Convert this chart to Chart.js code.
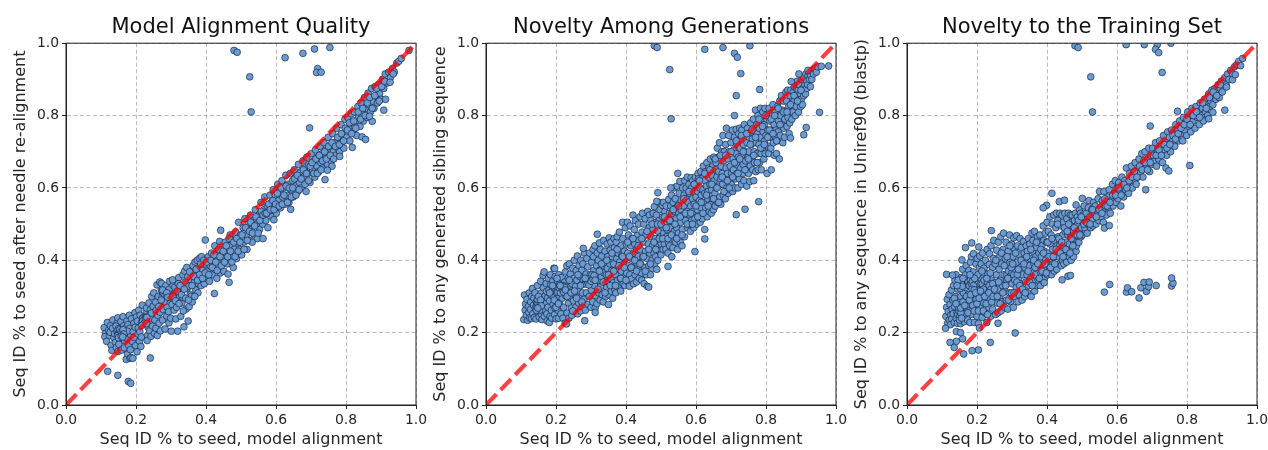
<!DOCTYPE html>
<html>
<head>
<meta charset="utf-8">
<script src="https://cdn.jsdelivr.net/npm/chart.js@4"></script>
<style>
  html, body { margin: 0; padding: 0; background: #fff; width: 1268px; height: 450px; overflow: hidden; }
  canvas { position: absolute; top: 0; }
  #alignChart { left: 0; }
  #siblingChart { left: 420px; }
  #trainChart { left: 841px; }
</style>
</head>
<body>
<canvas id="alignChart" width="440" height="450"></canvas>
<canvas id="siblingChart" width="440" height="450"></canvas>
<canvas id="trainChart" width="440" height="450"></canvas>
<script>
// Values, as [x, y] pairs. Not every dot of the dense band is recoverable,
// so the band is a hand estimate of where the dots sit.
const tickValues = [0, 0.2, 0.4, 0.6, 0.8, 1];
const tickLabels = ["0.0", "0.2", "0.4", "0.6", "0.8", "1.0"];
const xLabel = "Seq ID % to seed, model alignment";
const diagonal = [[0, 0], [1, 1]];

const alignBand = [
  [.109,.214],[.113,.198],[.118,.228],[.111,.189],[.122,.207],[.116,.176],[.127,.219],[.124,.192],[.129,.165],[.131,.151],[.126,.201],[.134,.235],
  [.137,.186],[.133,.212],[.141,.173],[.146,.226],[.139,.197],[.144,.159],[.148,.241],[.152,.205],[.143,.218],[.155,.182],[.149,.148],[.157,.231],[.153,.194],[.158,.213],[.151,.168],[.147,.199],[.154,.206],[.15,.211],[.156,.19],[.159,.152],
  [.163,.244],[.161,.202],[.168,.177],[.165,.219],[.172,.126],[.167,.158],[.174,.232],[.17,.198],[.176,.141],[.178,.207],[.169,.211],[.173,.185],[.181,.248],[.179,.165],[.183,.129],[.177,.222],[.185,.193],[.182,.212],[.187,.238],[.184,.153],[.189,.176],[.175,.204],[.186,.131],
  [.191,.129],[.194,.226],[.192,.203],[.197,.255],[.199,.164],[.195,.187],[.201,.243],[.203,.147],[.198,.215],[.206,.196],[.204,.232],[.208,.262],[.21,.176],[.207,.213],[.212,.248],[.214,.162],[.211,.202],[.216,.228],[.218,.276],[.215,.188],[.219,.24],
  [.221,.236],[.224,.242],[.222,.228],[.226,.233],[.228,.246],[.223,.238],[.227,.225],[.225,.24],[.229,.235],[.231,.258],[.233,.192],[.23,.268],[.235,.214],[.232,.178],[.237,.282],[.234,.245],[.239,.205],[.241,.263],[.238,.228],[.243,.19],[.245,.3],[.242,.24],[.247,.218],[.249,.273],[.244,.254],
  [.251,.31],[.253,.198],[.256,.284],[.254,.235],[.258,.262],[.26,.332],[.257,.212],[.262,.248],[.264,.3],[.261,.192],[.266,.226],[.268,.34],[.265,.272],[.27,.205],[.272,.318],[.269,.256],[.274,.29],[.276,.235],[.273,.336],[.278,.264],[.28,.3],[.282,.308],[.279,.295],[.284,.29],[.281,.296],[.286,.305],[.283,.21],[.288,.246],[.285,.33],[.29,.283],[.292,.312],[.289,.27],[.294,.227],[.296,.342],[.293,.258],[.298,.298],[.295,.32],[.299,.24],
  [.303,.278],[.306,.33],[.301,.204],[.309,.262],[.312,.31],[.305,.346],[.314,.238],[.317,.288],[.311,.325],[.319,.204],[.322,.352],[.316,.27],[.325,.3],[.328,.245],[.321,.335],[.331,.282],[.334,.36],[.327,.315],[.337,.216],[.34,.34],[.333,.298],[.343,.265],[.346,.322],[.339,.37],[.349,.232],[.352,.272],[.345,.38],[.355,.305],[.358,.345],
  [.351,.328],[.361,.285],[.364,.372],[.357,.3],[.367,.34],[.371,.318],[.363,.385],[.374,.36],[.377,.31],[.369,.395],[.379,.335],[.383,.378],[.375,.4],[.386,.33],[.388,.35],[.381,.405],[.391,.372],[.395,.335],[.387,.41],[.397,.39],[.402,.35],
  [.404,.37],[.407,.41],[.41,.342],[.412,.385],[.416,.42],[.419,.36],[.421,.4],[.425,.44],[.426,.375],[.431,.35],[.433,.418],[.437,.395],[.439,.452],[.441,.365],[.446,.43],[.448,.405],[.451,.37],[.455,.45],[.457,.42],[.461,.39],[.463,.362],[.467,.44],[.469,.47],[.472,.41],[.476,.455],[.478,.38],[.481,.43],[.485,.478],[.487,.405],[.491,.448],[.493,.505],[.496,.43],[.499,.47],
  [.502,.415],[.506,.49],[.508,.45],[.511,.515],[.515,.47],[.517,.43],[.521,.5],[.523,.455],[.527,.525],[.529,.485],[.532,.45],[.536,.51],[.538,.47],[.541,.54],[.545,.5],[.547,.46],[.551,.525],[.553,.485],[.557,.56],[.559,.515],[.562,.5],[.566,.54],[.568,.575],[.571,.51],[.575,.55],[.577,.49],[.581,.53],[.583,.58],[.587,.56],[.589,.52],[.592,.595],[.596,.545],[.598,.58],
  [.601,.53],[.605,.61],[.607,.565],[.611,.59],[.613,.545],[.617,.62],[.619,.575],[.622,.6],[.626,.555],[.628,.635],[.632,.58],[.634,.61],[.637,.56],[.641,.64],[.643,.595],[.647,.62],[.649,.575],[.652,.65],[.656,.605],[.658,.63],[.662,.59],[.664,.665],[.667,.615],[.671,.645],[.673,.6],[.677,.675],[.679,.63],[.682,.655],[.686,.59],[.688,.685],[.692,.64],[.694,.665],[.697,.615],
  [.701,.695],[.705,.65],[.707,.675],[.711,.63],[.713,.705],[.717,.66],[.719,.685],[.722,.645],[.726,.715],[.728,.67],[.732,.695],[.734,.655],[.737,.725],[.741,.68],[.743,.705],[.747,.665],[.749,.74],[.752,.69],[.756,.715],[.758,.675],[.762,.75],[.764,.7],[.767,.725],[.771,.69],[.773,.765],[.777,.71],[.779,.74],[.782,.7],[.786,.775],[.788,.725],[.792,.75],[.794,.71],[.797,.79],
  [.802,.74],[.805,.795],[.808,.765],[.811,.73],[.815,.805],[.817,.78],[.82,.755],[.824,.81],[.827,.785],[.83,.745],[.834,.825],[.836,.795],[.84,.77],[.843,.835],[.846,.805],[.85,.785],[.853,.85],[.856,.82],[.86,.795],[.863,.862],[.866,.83],[.87,.81],[.873,.875],[.876,.84],[.88,.82],[.883,.88],[.886,.855],[.89,.835],[.893,.885],[.896,.86],[.9,.845],[.904,.9],[.908,.875],[.912,.915],[.917,.89],[.922,.92],[.927,.905],[.933,.93],[.938,.92],[.945,.945],[.951,.95]
];
// second pass over the spots the first pass left open, and the dark knots where dots pile up
const alignFill = [
  [.146,.204],[.149,.198],[.152,.2],[.155,.196],[.148,.192],[.153,.208],[.157,.202],[.15,.186],[.16,.198],[.163,.208],[.165,.196],[.158,.19],[.162,.188],
  [.22,.24],[.223,.232],[.226,.24],[.219,.232],[.228,.238],[.224,.226],[.231,.242],[.217,.22],[.23,.225],
  [.275,.3],[.278,.31],[.283,.302],[.286,.295],[.28,.285],[.276,.318],[.288,.31],[.272,.29],[.291,.298],
  [.305,.3],[.313,.288],[.318,.315],[.323,.28],[.326,.33],[.33,.305],[.335,.26],[.338,.32],[.342,.295],[.348,.355],[.35,.29],[.353,.368],
  [.36,.33],[.365,.355],[.368,.3],[.372,.375],[.376,.345],[.382,.36],[.385,.39],[.39,.35],[.394,.4],[.398,.365],[.402,.395],
  [.408,.36],[.414,.4],[.418,.38],[.423,.415],[.428,.395],[.432,.372],[.436,.43],[.44,.41],[.444,.385],[.449,.425],[.453,.395],[.458,.44],[.462,.41],[.466,.46],[.47,.425],[.474,.395],[.479,.45],[.483,.41],[.488,.46],[.492,.425],[.497,.45],
  [.503,.47],[.509,.43],[.513,.49],[.518,.455],[.524,.48],[.528,.505],[.533,.475],[.539,.495],[.543,.52],[.549,.475],[.554,.51],[.558,.535],[.563,.525],[.569,.53],[.573,.53],[.579,.555],[.584,.54],[.591,.565],[.594,.54],[.599,.555],
  [.604,.585],[.609,.55],[.614,.6],[.618,.555],[.623,.58],[.629,.605],[.633,.56],[.638,.6],[.644,.575],[.648,.6],[.653,.625],[.657,.58],[.661,.635],[.666,.595],[.672,.625],[.678,.65],[.683,.61],[.687,.64],[.693,.62],[.698,.66],
  [.703,.67],[.708,.64],[.714,.68],[.718,.64],[.724,.69],[.729,.65],[.733,.675],[.739,.7],[.744,.68],[.75,.715],[.755,.69],[.76,.725],[.765,.68],[.77,.715],[.776,.74],[.781,.72],[.787,.75],[.793,.73],[.798,.765],
  [.804,.76],[.81,.78],[.816,.75],[.822,.785],[.828,.765],[.835,.81],[.842,.79],[.848,.82],[.855,.8],[.861,.835],[.868,.85],[.875,.82],[.882,.855],[.888,.875],[.895,.84],[.902,.88],[.91,.895]
];
const alignOutliers = [
  [.48,.98],[.489,.975],[.525,.907],[.529,.81],[.626,.96],[.677,.972],[.71,.984],[.754,.988],[.719,.93],[.716,.919],
  [.729,.92],[.696,.766],[.119,.093],[.148,.082],[.178,.065],[.185,.06],[.241,.13],[.424,.308],[.466,.339],[.398,.456],
  [.442,.483],[.563,.46],[.594,.512],[.642,.541],[.74,.623],[.782,.687],[.818,.712],[.846,.741],[.856,.734],[.875,.784],
  [.867,.798],[.908,.815],[.913,.845],[.926,.892],[.958,.958],[.935,.915],[.76,.66],[.747,.649],[.98,.98]
];

const siblingBand = [
  [.108,.236],[.112,.262],[.11,.304],[.115,.248],[.113,.279],[.119,.234],[.117,.292],[.122,.256],[.121,.272],[.125,.241],[.124,.31],[.128,.285],[.127,.264],[.131,.3],[.13,.239],[.134,.252],[.133,.322],[.136,.276],[.138,.242],[.137,.295],
  [.141,.268],[.14,.31],[.144,.285],[.143,.238],[.146,.281],[.148,.256],[.147,.33],[.151,.275],[.15,.29],[.153,.28],[.152,.243],[.155,.295],[.154,.272],[.157,.284],[.156,.342],[.159,.25],[.158,.31],[.161,.268],[.16,.236],[.163,.358],[.165,.29],[.164,.324],[.167,.245],[.166,.368],[.169,.302],[.168,.262],
  [.172,.336],[.171,.28],[.174,.252],[.173,.314],[.176,.296],[.175,.232],[.178,.35],[.177,.27],[.181,.228],[.18,.318],[.183,.245],[.182,.288],[.185,.333],[.184,.36],[.187,.262],[.186,.304],[.189,.315],[.188,.24],[.192,.278],[.191,.343],[.194,.378],[.193,.298],[.196,.25],[.195,.326],[.198,.355],[.197,.268],[.2,.238],
  [.202,.31],[.201,.288],[.204,.342],[.206,.262],[.205,.324],[.208,.36],[.207,.24],[.21,.3],[.212,.276],[.211,.334],[.214,.252],[.216,.318],[.215,.352],[.218,.295],[.217,.326],[.22,.24],[.222,.27],[.221,.322],[.224,.318],[.226,.226],[.225,.34],[.228,.302],[.227,.368],[.23,.328],[.232,.254],[.231,.385],[.234,.31],[.236,.282],[.235,.35],[.238,.39],[.237,.24],[.24,.325],
  [.242,.296],[.241,.362],[.244,.268],[.246,.335],[.245,.248],[.248,.378],[.247,.316],[.25,.288],[.252,.4],[.251,.35],[.254,.258],[.256,.328],[.255,.305],[.258,.372],[.257,.27],[.26,.345],[.262,.252],[.261,.412],[.264,.315],[.266,.385],[.265,.282],[.268,.355],[.267,.298],[.27,.26],[.272,.332],[.271,.4],[.274,.372],[.276,.31],[.275,.272],[.278,.345],[.277,.39],[.28,.292],
  [.282,.335],[.281,.42],[.284,.262],[.286,.362],[.285,.34],[.288,.405],[.287,.31],[.29,.338],[.292,.278],[.291,.382],[.294,.345],[.296,.42],[.295,.3],[.298,.36],[.297,.332],[.3,.27],[.302,.395],[.301,.318],[.304,.35],[.306,.43],[.305,.285],[.308,.372],[.307,.41],[.31,.33],[.312,.268],[.311,.44],[.314,.302],[.316,.385],[.315,.355],[.318,.42],[.317,.28],[.32,.345],
  [.322,.31],[.321,.4],[.324,.448],[.326,.29],[.325,.372],[.328,.328],[.327,.43],[.33,.355],[.332,.305],[.331,.412],[.334,.385],[.336,.455],[.335,.285],[.338,.34],[.337,.365],[.34,.425],[.342,.3],[.341,.395],[.344,.36],[.346,.445],[.345,.325],[.348,.41],[.347,.378],[.35,.305],[.352,.462],[.351,.34],[.354,.39],[.356,.35],[.355,.428],[.358,.315],[.357,.45],[.36,.372],
  [.362,.295],[.361,.41],[.364,.338],[.366,.46],[.365,.39],[.368,.318],[.367,.435],[.37,.36],[.372,.45],[.371,.31],[.374,.405],[.376,.345],[.375,.465],[.378,.378],[.377,.42],[.38,.325],[.382,.395],[.381,.478],[.384,.35],[.386,.44],[.385,.315],[.388,.412],[.387,.37],[.39,.505],[.392,.335],[.391,.46],[.394,.39],[.396,.425],[.395,.352],[.398,.49],[.397,.33],[.4,.405],
  [.402,.365],[.401,.445],[.404,.505],[.406,.34],[.405,.42],[.408,.385],[.407,.47],[.41,.328],[.412,.495],[.411,.36],[.414,.44],[.416,.405],[.415,.348],[.418,.46],[.417,.38],[.42,.525],[.422,.335],[.421,.42],[.424,.485],[.426,.36],[.425,.445],[.428,.395],[.427,.51],[.43,.34],[.432,.468],[.431,.43],[.434,.375],[.436,.5],[.435,.41],[.438,.35],[.437,.455],[.44,.52],
  [.442,.39],[.441,.43],[.444,.365],[.446,.478],[.445,.345],[.448,.41],[.447,.53],[.45,.45],[.452,.335],[.451,.5],[.454,.38],[.456,.425],[.455,.515],[.458,.36],[.457,.47],[.46,.405],[.462,.535],[.461,.328],[.464,.445],[.466,.49],[.465,.385],[.468,.42],[.467,.525],[.47,.36],[.472,.465],[.471,.51],[.474,.4],[.476,.44],[.475,.378],[.478,.53],[.477,.485],[.48,.42],
  [.482,.39],[.481,.548],[.484,.46],[.486,.505],[.485,.41],[.488,.375],[.487,.525],[.49,.44],[.492,.48],[.491,.4],[.494,.56],[.496,.425],[.495,.51],[.498,.465],[.497,.54],[.5,.415],[.502,.495],[.501,.445],[.504,.552],[.506,.43],[.505,.52],[.508,.475],[.507,.56],[.51,.445],[.512,.5],[.511,.535],[.514,.43],[.516,.465],[.515,.55],[.518,.515],[.517,.485],[.52,.42],
  [.522,.568],[.521,.45],[.524,.53],[.526,.49],[.525,.44],[.528,.55],[.527,.51],[.53,.58],[.532,.465],[.531,.53],[.534,.435],[.536,.505],[.535,.56],[.538,.48],[.537,.6],[.54,.535],[.542,.45],[.541,.57],[.544,.515],[.546,.605],[.545,.49],[.548,.55],[.547,.43],[.55,.475],[.552,.585],[.551,.53],[.554,.618],[.556,.505],[.555,.45],[.558,.565],[.557,.54],[.56,.44],
  [.562,.6],[.561,.485],[.564,.525],[.566,.58],[.565,.55],[.568,.62],[.567,.465],[.57,.51],[.572,.6],[.571,.57],[.574,.535],[.576,.49],[.575,.63],[.578,.56],[.577,.5],[.58,.61],[.582,.525],[.581,.585],[.584,.48],[.586,.628],[.585,.55],[.588,.51],[.587,.6],[.59,.57],[.592,.535],[.591,.62],[.594,.49],[.596,.59],[.595,.555],[.598,.63],[.597,.515],[.6,.575],
  [.602,.5],[.601,.61],[.604,.54],[.606,.64],[.605,.59],[.608,.52],[.607,.625],[.61,.565],[.612,.505],[.611,.6],[.614,.645],[.616,.545],[.615,.58],[.618,.515],[.617,.625],[.62,.595],[.622,.56],[.621,.66],[.624,.53],[.626,.62],[.625,.585],[.628,.545],[.627,.645],[.63,.605],[.632,.52],[.631,.67],[.634,.57],[.636,.63],[.635,.59],[.638,.535],[.637,.655],[.64,.61],
  [.642,.555],[.641,.68],[.644,.53],[.646,.635],[.645,.595],[.648,.66],[.647,.57],[.65,.54],[.652,.62],[.651,.685],[.654,.585],[.656,.65],[.655,.55],[.658,.6],[.657,.67],[.66,.63],[.662,.56],[.661,.71],[.664,.605],[.666,.685],[.665,.645],[.668,.575],[.667,.725],[.67,.625],[.672,.66],[.671,.555],[.674,.7],[.676,.61],[.675,.64],[.678,.58],[.677,.745],[.68,.675],
  [.682,.625],[.681,.7],[.684,.57],[.686,.655],[.685,.72],[.688,.6],[.687,.765],[.69,.64],[.692,.585],[.691,.68],[.694,.745],[.696,.62],[.695,.7],[.698,.66],[.697,.595],[.7,.725],[.702,.64],[.701,.61],[.704,.76],[.706,.68],[.705,.59],[.708,.705],[.707,.65],[.71,.74],[.712,.625],[.711,.6],[.714,.695],[.716,.665],[.715,.762],[.718,.72],[.717,.64],[.72,.6],
  [.722,.75],[.721,.685],[.724,.625],[.726,.71],[.725,.765],[.728,.655],[.727,.735],[.73,.61],[.732,.69],[.731,.76],[.734,.64],[.736,.72],[.735,.665],[.738,.775],[.737,.62],[.74,.7],[.742,.745],[.741,.675],[.744,.65],[.746,.725],[.745,.605],[.748,.685],[.747,.765],[.75,.64],[.752,.74],[.751,.7],[.754,.618],[.756,.78],[.755,.66],[.758,.72],[.757,.755],[.76,.68],
  [.762,.65],[.761,.735],[.764,.79],[.766,.7],[.765,.62],[.768,.76],[.767,.67],[.77,.815],[.772,.725],[.771,.645],[.774,.775],[.776,.695],[.775,.75],[.778,.65],[.777,.8],[.78,.72],[.782,.67],[.781,.765],[.784,.82],[.786,.695],[.785,.74],[.788,.785],[.787,.65],[.79,.71],[.792,.755],[.791,.81],[.794,.68],[.796,.73],[.795,.775],[.798,.695],[.797,.82],[.8,.745],
  [.803,.64],[.802,.79],[.806,.715],[.805,.76],[.809,.82],[.808,.695],[.812,.74],[.811,.785],[.815,.65],[.814,.71],[.818,.805],[.817,.76],[.821,.725],[.82,.83],[.824,.69],[.823,.775],[.827,.74],[.826,.81],[.83,.695],[.829,.76],[.833,.825],[.832,.73],[.836,.785],[.835,.755],[.839,.84],[.838,.68],[.842,.8],[.841,.745],[.845,.775],[.844,.855],[.848,.725],[.847,.815],
  [.851,.765],[.85,.84],[.854,.79],[.853,.74],[.857,.865],[.856,.81],[.86,.77],[.859,.84],[.863,.795],[.862,.87],[.866,.75],[.865,.825],[.869,.855],[.868,.78],[.872,.81],[.871,.87],[.875,.835],[.874,.79],[.878,.865],[.877,.81],[.881,.88],[.88,.84],[.884,.8],[.883,.855],[.887,.875],[.886,.825],[.89,.85],[.889,.895],[.893,.81],[.892,.87],
  [.896,.84],[.895,.885],[.899,.825],[.898,.86],[.902,.9],[.901,.845],[.905,.875],[.904,.83],[.908,.855],[.907,.905],[.911,.885],[.91,.87],[.914,.915],[.913,.86],[.917,.895],[.916,.875],[.92,.91],[.919,.885],[.924,.9],[.923,.92],[.928,.91],[.927,.88],[.932,.925],[.931,.9],[.936,.915],[.94,.93],[.944,.92],[.948,.935]
];
const siblingFill = [
  [.146,.272],[.149,.28],[.152,.27],[.155,.282],[.147,.292],[.15,.3],[.153,.262],[.156,.29],[.158,.274],[.144,.262],[.148,.268],
  [.205,.312],[.21,.322],[.213,.31],[.218,.32],[.22,.33],[.215,.328],[.222,.312],[.225,.325],[.212,.33],[.227,.318],
  [.285,.335],[.288,.345],[.291,.34],[.294,.332],[.297,.35],[.3,.342],[.303,.36],[.306,.348],[.283,.35],[.309,.358],[.312,.345],
  [.182,.31],[.19,.33],[.195,.29],[.2,.27],[.203,.35],[.207,.28],[.232,.3],[.238,.345],[.243,.31],[.248,.26],[.253,.315],[.259,.295],[.263,.36],[.27,.33],[.274,.285],
  [.32,.32],[.324,.37],[.33,.39],[.335,.34],[.34,.31],[.345,.4],[.35,.36],[.355,.33],[.36,.42],[.365,.37],[.37,.33],[.375,.43],[.38,.385],[.385,.35],[.39,.41],[.395,.38],[.4,.345],[.405,.45],[.41,.41],[.415,.38],[.42,.46],[.425,.4],[.43,.37],[.435,.44],[.44,.39],[.445,.46],[.45,.41],[.455,.37],[.46,.48],[.465,.43],[.47,.39],[.475,.5],[.48,.45],[.485,.43],[.49,.5],[.495,.46],
  [.5,.5],[.505,.46],[.51,.52],[.515,.49],[.52,.46],[.525,.51],[.53,.47],[.535,.54],[.54,.5],[.545,.46],[.55,.55],[.555,.52],[.56,.47],[.565,.57],[.57,.53],[.575,.5],[.58,.59],[.585,.53],[.59,.5],[.595,.61],[.6,.55],[.605,.52],[.61,.62],[.615,.56],[.62,.53],[.625,.64],[.63,.58],[.635,.55],[.64,.65],[.645,.61],[.65,.57],[.655,.68],[.66,.6],[.665,.56],[.67,.69],[.675,.63],[.68,.59],[.685,.69],[.69,.62],[.695,.6],[.7,.7],[.705,.63],[.71,.67],[.715,.73],[.72,.64],[.725,.68],[.73,.745],[.735,.7],[.74,.65],[.745,.75],[.75,.68],[.755,.72],[.76,.76],[.765,.69],[.77,.74],[.775,.67],[.78,.79],[.785,.71],[.79,.77],[.795,.72],[.8,.8],[.805,.74],[.81,.76],[.815,.79],[.82,.75],[.825,.8],[.83,.73],[.835,.82],[.84,.775],[.85,.81],[.86,.81],[.87,.83],[.88,.855],[.89,.84],[.9,.87]
];
const siblingOutliers = [
  [.481,.993],[.489,.988],[.525,.927],[.529,.791],[.625,.983],[.677,.988],[.71,.972],[.718,.961],[.754,.993],[.728,.916],
  [.715,.855],[.782,.872],[.71,.8],[.953,.809],[.979,.937],[.958,.936],[.915,.767],[.908,.747],[.87,.738],[.779,.562],
  [.715,.526],[.74,.541],[.597,.424],[.625,.459],[.625,.485],[.52,.383],[.531,.41],[.465,.326],[.312,.256],[.282,.233],
  [.35,.278],[.23,.224],[.318,.472],[.278,.433],[.196,.377],[.491,.587],[.528,.6],[.548,.64],[.488,.563],[.872,.894],
  [.894,.915],[.92,.925]
];

const trainBand = [
  [.111,.245],[.113,.27],[.116,.226],[.115,.292],[.118,.258],[.121,.236],[.12,.305],[.123,.278],[.125,.248],[.124,.222],[.127,.318],[.129,.265],[.128,.238],[.131,.29],[.133,.33],[.132,.252],[.135,.228],[.137,.345],[.136,.272],[.139,.3],[.141,.24],[.14,.36],[.143,.255],[.145,.32],[.144,.226],[.147,.283],[.149,.335],[.148,.248],
  [.151,.338],[.15,.262],[.153,.225],[.155,.352],[.154,.3],[.157,.245],[.156,.332],[.159,.375],[.158,.27],[.161,.31],[.163,.23],[.162,.342],[.165,.29],[.167,.36],[.166,.252],[.169,.385],[.168,.325],[.171,.275],[.173,.235],[.172,.345],[.175,.305],[.177,.372],[.176,.26],[.179,.33],[.181,.395],[.18,.228],[.183,.35],[.185,.285],[.184,.41],
  [.187,.33],[.186,.25],[.189,.368],[.191,.305],[.19,.418],[.193,.228],[.195,.345],[.194,.27],[.197,.39],[.199,.335],[.198,.292],[.201,.405],[.2,.245],[.203,.36],[.205,.316],[.204,.225],[.207,.38],[.209,.27],[.208,.412],[.211,.335],[.213,.3],[.212,.39],[.215,.242],[.217,.35],[.216,.42],[.219,.282],[.221,.33],[.22,.378],[.223,.255],
  [.225,.335],[.224,.4],[.227,.31],[.229,.43],[.228,.228],[.231,.362],[.233,.27],[.232,.336],[.235,.388],[.237,.295],[.236,.418],[.239,.245],[.241,.345],[.24,.44],[.243,.322],[.245,.265],[.244,.38],[.247,.405],[.249,.3],[.248,.455],[.251,.338],[.253,.25],[.252,.39],[.255,.36],[.257,.282],[.256,.428],[.259,.32],[.261,.45],[.26,.255],[.263,.375],
  [.265,.3],[.264,.41],[.267,.345],[.269,.26],[.268,.465],[.271,.39],[.273,.33],[.272,.285],[.275,.43],[.277,.36],[.276,.475],[.279,.27],[.281,.405],[.28,.315],[.283,.45],[.285,.345],[.284,.29],[.287,.385],[.289,.425],[.288,.265],[.291,.36],[.293,.47],[.292,.31],[.295,.405],[.297,.358],[.296,.285],[.299,.445],[.301,.365],[.3,.335],
  [.303,.41],[.305,.462],[.304,.27],[.307,.355],[.309,.3],[.308,.43],[.311,.37],[.313,.468],[.312,.325],[.315,.395],[.317,.285],[.316,.44],[.319,.35],[.321,.415],[.32,.305],[.323,.46],[.325,.38],[.324,.335],[.327,.435],[.329,.29],[.328,.4],[.331,.36],[.333,.452],[.332,.315],[.335,.42],[.337,.38],[.336,.3],[.339,.34],[.341,.44],[.34,.4],
  [.343,.36],[.345,.31],[.344,.425],[.347,.46],[.349,.385],[.348,.33],[.351,.445],[.353,.35],[.352,.405],[.355,.3],[.357,.475],[.356,.37],[.359,.425],[.361,.34],[.36,.455],[.363,.39],[.365,.315],[.364,.48],[.367,.36],[.369,.435],[.368,.41],[.371,.33],[.373,.465],[.372,.38],[.375,.345],[.377,.42],[.376,.45],
  [.379,.395],[.381,.33],[.38,.47],[.383,.365],[.385,.44],[.384,.41],[.387,.345],[.389,.495],[.388,.385],[.391,.455],[.393,.35],[.392,.425],[.395,.475],[.397,.375],[.396,.4],[.399,.45],[.401,.36],[.4,.505],[.403,.42],[.405,.385],[.404,.48],[.407,.37],[.409,.445],[.408,.52],
  [.411,.405],[.413,.36],[.412,.47],[.415,.5],[.417,.39],[.416,.43],[.419,.525],[.421,.37],[.42,.455],[.423,.41],[.425,.49],[.424,.385],[.427,.53],[.429,.44],[.428,.375],[.431,.51],[.433,.41],[.432,.465],[.435,.39],[.437,.53],[.436,.44],[.439,.495],[.441,.385],[.44,.425],[.443,.525],[.445,.47],[.444,.4],
  [.447,.505],[.449,.44],[.448,.39],[.451,.53],[.453,.415],[.452,.48],[.455,.45],[.457,.515],[.456,.395],[.459,.43],[.461,.53],[.46,.47],[.463,.41],[.465,.495],[.464,.445],[.467,.525],[.469,.4],[.468,.465],[.471,.505],[.473,.43],[.472,.525],[.475,.48],[.477,.45],[.476,.41],[.479,.51],[.481,.53],[.48,.46],
  [.483,.425],[.485,.495],[.484,.44],[.487,.52],[.489,.465],[.488,.5],[.491,.45],[.493,.54],[.492,.48],[.495,.51],[.497,.465],[.496,.53],[.499,.49],
  [.503,.525],[.501,.47],[.506,.55],[.508,.49],[.512,.53],[.51,.51],[.515,.475],[.518,.545],[.516,.5],[.522,.52],[.52,.565],[.525,.49],[.528,.54],[.53,.51],[.533,.56],[.531,.495],[.536,.53],[.54,.5],[.538,.55],[.543,.525],[.546,.57],[.548,.51],[.552,.545],[.55,.59],
  [.555,.52],[.558,.565],[.56,.54],[.563,.59],[.561,.505],[.567,.55],[.57,.525],[.573,.575],[.576,.545],[.578,.595],[.581,.53],[.584,.565],[.587,.61],[.589,.55],[.592,.585],[.595,.62],[.597,.56],[.6,.6],
  [.603,.57],[.605,.615],[.608,.59],[.611,.55],[.614,.63],[.616,.6],[.619,.575],[.622,.62],[.625,.595],[.627,.655],[.63,.61],[.633,.585],[.636,.64],[.638,.62],[.641,.66],[.644,.6],[.647,.64],[.649,.62],[.652,.67],[.655,.61],[.658,.65],[.66,.63],[.663,.68],[.666,.64],[.669,.66],[.671,.695],[.674,.63],[.677,.675],[.68,.7],[.682,.595],[.685,.66],[.688,.68],[.691,.71],[.693,.645],[.696,.69],[.699,.665],
  [.702,.71],[.705,.675],[.708,.695],[.71,.725],[.713,.66],[.716,.705],[.719,.68],[.722,.73],[.725,.695],[.728,.715],[.73,.67],[.733,.745],[.736,.705],[.739,.725],[.742,.69],[.745,.755],[.748,.72],[.75,.74],[.753,.7],[.756,.76],[.759,.73],[.762,.75],[.765,.715],[.768,.775],[.77,.74],[.773,.76],[.776,.73],[.779,.785],[.782,.75],[.785,.77],[.788,.73],[.79,.795],[.793,.76],[.796,.78],[.799,.745],
  [.802,.81],[.805,.77],[.808,.79],[.811,.755],[.814,.82],[.817,.785],[.82,.8],[.823,.765],[.826,.825],[.829,.795],[.832,.81],[.835,.775],[.838,.835],[.841,.8],[.844,.82],[.847,.785],[.85,.845],[.853,.81],[.856,.83],[.859,.8],[.862,.86],[.865,.825],[.868,.84],[.871,.87],[.874,.83],[.877,.855],[.88,.875],[.883,.845],[.886,.865],[.889,.885],[.892,.85],[.895,.875],[.898,.895],[.901,.865],[.905,.89],[.908,.905],[.912,.885],[.916,.915],[.92,.9],[.925,.925],[.93,.915],[.936,.935],[.942,.94],[.948,.95]
];
const trainFill = [
  [.145,.25],[.148,.26],[.151,.245],[.154,.255],[.147,.27],[.15,.235],[.153,.268],[.156,.24],[.149,.33],[.152,.322],[.155,.34],[.158,.328],[.146,.345],[.16,.35],[.143,.33],
  [.175,.34],[.178,.33],[.181,.345],[.184,.335],[.187,.342],[.19,.33],[.193,.35],[.18,.36],[.186,.32],[.192,.318],
  [.215,.335],[.22,.345],[.225,.325],[.23,.34],[.235,.33],[.24,.32],[.228,.35],[.218,.32],[.245,.335],
  [.285,.36],[.29,.37],[.295,.355],[.3,.365],[.305,.36],[.31,.375],[.315,.36],[.288,.35],[.298,.38],[.308,.345],
  [.135,.295],[.14,.28],[.16,.285],[.165,.275],[.17,.3],[.174,.255],[.178,.29],[.182,.305],[.188,.275],[.192,.26],[.196,.31],[.2,.28],[.204,.26],[.206,.295],[.21,.315],[.214,.37],[.218,.26],[.222,.3],[.226,.28],[.23,.25],[.234,.31],[.238,.365],[.242,.285],[.246,.3],[.25,.32],[.254,.4],[.258,.3],[.262,.34],[.266,.28],[.27,.42],[.274,.31],[.278,.385],[.282,.33],[.286,.41],[.29,.29],[.294,.44],[.298,.31],[.302,.39],[.306,.31],[.31,.42],[.314,.34],[.318,.375],[.322,.33],[.326,.4],[.33,.32],[.334,.39],[.338,.31],[.342,.41],[.346,.37],[.35,.34],[.354,.43],[.358,.33],[.362,.4],[.366,.38],[.37,.45],[.374,.39],[.378,.35],[.382,.43],[.386,.37],[.39,.42],[.394,.39],[.398,.365],[.402,.45],[.406,.41],[.41,.38],[.414,.46],[.418,.41],[.422,.39],[.426,.43],[.43,.5],[.434,.46],[.438,.42],[.442,.45],[.446,.41],[.45,.49],[.454,.43],[.458,.48],[.462,.5],[.466,.42],[.47,.46],[.474,.44],[.478,.49],[.482,.47],[.486,.47],[.49,.51],[.494,.47],[.498,.52],
  [.505,.5],[.513,.505],[.523,.5],[.53,.54],[.541,.52],[.549,.54],[.557,.53],[.565,.57],[.572,.55],[.58,.56],[.588,.58],[.596,.58],[.604,.6],[.612,.58],[.62,.61],[.628,.6],[.635,.62],[.643,.63],[.65,.645],[.657,.63],[.665,.66],[.672,.65],[.68,.67],[.687,.65],[.695,.67],[.704,.69],[.712,.69],[.72,.705],[.727,.69],[.735,.72],[.743,.71],[.751,.72],[.76,.745],[.767,.735],[.775,.75],[.783,.765],[.792,.775],[.8,.79],[.809,.775],[.818,.8],[.827,.81],[.836,.795],[.845,.835],[.855,.82],[.864,.85],[.875,.865],[.885,.855],[.895,.885]
];
const trainOutliers = [
  [.48,.993],[.489,.988],[.525,.907],[.53,.81],[.626,.996],[.678,.996],[.715,.996],[.71,.983],[.719,.974],[.754,1],
  [.729,.919],[.695,.771],[.908,.815],[.773,.812],[.808,.662],[.74,.655],[.748,.647],[.564,.312],[.579,.333],[.627,.312],
  [.63,.324],[.642,.313],[.663,.296],[.668,.324],[.677,.339],[.684,.314],[.69,.327],[.692,.34],[.712,.33],[.756,.329],
  [.76,.337],[.756,.351],[.443,.346],[.46,.356],[.467,.358],[.392,.338],[.309,.199],[.26,.226],[.238,.173],[.204,.152],
  [.186,.15],[.162,.141],[.141,.176],[.123,.173],[.135,.159],[.159,.183],[.141,.203],[.153,.2],[.11,.212],[.207,.213],
  [.414,.585],[.399,.552],[.389,.545],[.435,.562],[.45,.566],[.483,.553],[.501,.571],[.241,.482],[.185,.448],[.205,.437],
  [.167,.435],[.113,.361],[.13,.359],[.157,.401],[.93,.899],[.953,.938],[.938,.913],[.913,.879],[.959,.958],[.862,.791],
  [.874,.809],[.564,.489],[.578,.496]
];

const FONT = "'DejaVu Sans', sans-serif";
const INK = "#262626";

// frame on all four sides, the axes only give left and bottom
const framePlugin = {
  id: "frame",
  afterDatasetsDraw(chart) {
    const { ctx, chartArea: a } = chart;
    ctx.save();
    ctx.strokeStyle = "#222";
    ctx.lineWidth = 1;
    ctx.strokeRect(a.left, a.top, a.right - a.left, a.bottom - a.top);
    ctx.restore();
  },
};

function toPoints(...lists) {
  return lists.flat().map(([x, y]) => ({ x, y }));
}

function axis(label, isX) {
  return {
    type: "linear",
    min: 0,
    max: 1,
    afterBuildTicks: (scale) => { scale.ticks = tickValues.map((value) => ({ value })); },
    afterFit: (scale) => { if (isX) scale.height = 45; else scale.width = 66; },
    ticks: {
      color: INK,
      font: { family: FONT, size: 13.9 },
      padding: 3,
      maxRotation: 0,
      autoSkip: false,
      callback: (value) => tickLabels[tickValues.indexOf(value)],
    },
    grid: {
      color: "rgba(128,128,128,0.55)",
      lineWidth: 1,
      tickLength: 4,
      tickColor: "#222",
      tickBorderDash: [],
    },
    border: { display: true, color: "#222", dash: [4, 2.5] },
    title: {
      display: true,
      text: label,
      color: INK,
      font: { family: FONT, size: 16 },
      padding: isX ? { top: 2, bottom: 1 } : { top: 11, bottom: 2 },
    },
  };
}

function drawPanel(id, title, yLabel, band, fill, outliers) {
  new Chart(document.getElementById(id), {
    type: "scatter",
    data: {
      datasets: [
        {
          data: toPoints(diagonal),
          showLine: true,
          pointRadius: 0,
          borderColor: "rgba(255,0,0,0.75)",
          borderWidth: 4.2,
          borderDash: [15, 6],
          order: 0,
          clip: 0,
        },
        {
          data: toPoints(band, fill, outliers),
          backgroundColor: "#6a9bd3",
          borderColor: "rgba(10,20,40,0.85)",
          borderWidth: 0.7,
          pointRadius: 3.4,
          order: 1,
          clip: 0,
        },
      ],
    },
    options: {
      responsive: false,
      animation: false,
      layout: { padding: { right: 24 } },
      plugins: {
        legend: { display: false },
        tooltip: { enabled: false },
        title: {
          display: true,
          text: title,
          fullSize: false,
          color: "#111",
          font: { family: FONT, size: 21, weight: "normal" },
          padding: { top: 15, bottom: 3 },
        },
      },
      scales: { x: axis(xLabel, true), y: axis(yLabel, false) },
    },
    plugins: [framePlugin],
  });
}

drawPanel("alignChart", "Model Alignment Quality", "Seq ID % to seed after needle re-alignment", alignBand, alignFill, alignOutliers);
drawPanel("siblingChart", "Novelty Among Generations", "Seq ID % to any generated sibling sequence", siblingBand, siblingFill, siblingOutliers);
drawPanel("trainChart", "Novelty to the Training Set", "Seq ID % to any sequence in Uniref90 (blastp)", trainBand, trainFill, trainOutliers);
</script>
</body>
</html>
